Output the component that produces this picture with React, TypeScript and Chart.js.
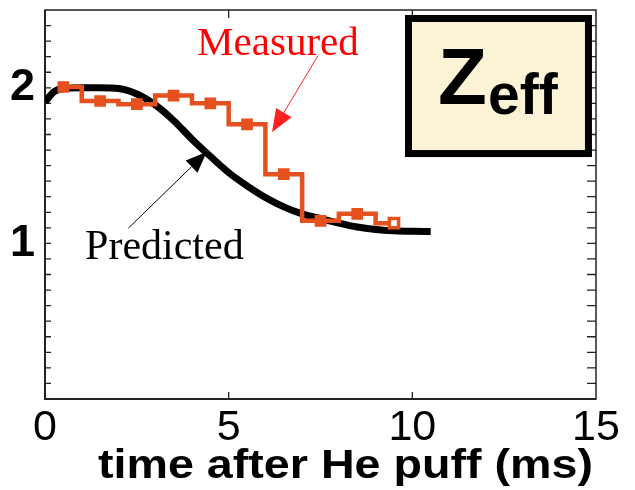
import React, { useEffect, useRef } from "react";
import { Chart, registerables } from "chart.js";

Chart.register(...registerables);

// ---- data ----
const measuredTimes = [0.5, 1.5, 2.5, 3.5, 4.5, 5.5, 6.5, 7.5, 8.5, 9.5];
const measuredZeff = [2.005, 1.915, 1.895, 1.95, 1.9, 1.765, 1.445, 1.145, 1.19, 1.13];

const predictedTimes = [0, 0.25, 0.5, 1, 1.5, 2, 2.5, 3, 3.5, 4, 4.5, 5, 5.5, 6, 6.5, 7, 7.5, 8, 8.5, 9, 9.5, 10, 10.5];
const predictedZeff = [1.91, 1.975, 1.995, 2.0, 2.0, 1.995, 1.96, 1.89, 1.79, 1.67, 1.56, 1.455, 1.37, 1.295, 1.235, 1.19, 1.16, 1.13, 1.105, 1.09, 1.082, 1.078, 1.076];

const xTickLabels = [0, 5, 10, 15];
const yTickLabels = [1, 2];
const xTitle = "time after He puff (ms)";
const measuredLabel = "Measured";
const predictedLabel = "Predicted";

const SANS = "'Liberation Sans', Arial, sans-serif";
const SERIF = "'Liberation Serif', 'Times New Roman', serif";
const RED = "#E5501F";

function arrow(ctx: CanvasRenderingContext2D, x1: number, y1: number, x2: number, y2: number, color: string, headLen: number, headHalf: number) {
  const ang = Math.atan2(y2 - y1, x2 - x1);
  const bx = x2 - headLen * Math.cos(ang);
  const by = y2 - headLen * Math.sin(ang);
  ctx.save();
  ctx.strokeStyle = color;
  ctx.fillStyle = color;
  ctx.lineWidth = 1;
  ctx.beginPath();
  ctx.moveTo(x1, y1);
  ctx.lineTo(bx, by);
  ctx.stroke();
  ctx.beginPath();
  ctx.moveTo(x2, y2);
  ctx.lineTo(bx + headHalf * Math.sin(ang), by - headHalf * Math.cos(ang));
  ctx.lineTo(bx - headHalf * Math.sin(ang), by + headHalf * Math.cos(ang));
  ctx.closePath();
  ctx.fill();
  ctx.restore();
}

const framePlugin = {
  id: "frame",
  beforeDatasetsDraw(chart: any) {
    const { ctx, chartArea: a, scales } = chart;
    const xs = scales.x, ys = scales.y;
    ctx.save();
    ctx.strokeStyle = "#222";
    ctx.lineWidth = 1.5;
    ctx.strokeRect(a.left, a.top, a.right - a.left, a.bottom - a.top);
    ctx.lineWidth = 2;
    ctx.beginPath();
    ctx.moveTo(a.left, a.top);
    ctx.lineTo(a.left, a.bottom);
    ctx.lineTo(a.right, a.bottom);
    ctx.stroke();
    ctx.lineWidth = 1.3;
    ctx.beginPath();
    for (let i = 1; i < 25; i++) {
      const y = ys.getPixelForValue(i / 10);
      ctx.moveTo(a.left, y);
      ctx.lineTo(a.left + 6, y);
      ctx.moveTo(a.right, y);
      ctx.lineTo(a.right - 9, y);
    }
    for (const v of xTickLabels) {
      if (v === 0 || v === 15) continue;
      const x = xs.getPixelForValue(v);
      ctx.moveTo(x, a.bottom);
      ctx.lineTo(x, a.bottom - 7);
      ctx.moveTo(x, a.top);
      ctx.lineTo(x, a.top + 8);
    }
    ctx.stroke();
    ctx.restore();
  },
  afterDatasetsDraw(chart: any) {
    const { ctx, chartArea: a, scales } = chart;
    const X = (v: number) => scales.x.getPixelForValue(v);
    const Y = (v: number) => scales.y.getPixelForValue(v);
    ctx.save();
    // annotations
    ctx.textAlign = "left";
    ctx.textBaseline = "alphabetic";
    ctx.fillStyle = "#FF0000";
    ctx.font = `41px ${SERIF}`;
    ctx.fillText(measuredLabel, X(4.14), Y(2.214));
    ctx.fillStyle = "#000";
    ctx.font = `42px ${SERIF}`;
    ctx.fillText(predictedLabel, X(1.09), Y(0.898));
    arrow(ctx, X(7.43), Y(2.206), X(6.18), Y(1.714), "#FF2020", 23, 9);
    arrow(ctx, X(2.27), Y(1.098), X(4.40), Y(1.587), "#000", 21, 8.5);

    // Zeff box
    const bl = X(9.8), br = X(14.89), bt = Y(2.468), bb = Y(1.555);
    ctx.fillStyle = "#FCF2D5";
    ctx.fillRect(bl, bt, br - bl, bb - bt);
    ctx.strokeStyle = "#000";
    ctx.lineWidth = 7;
    ctx.strokeRect(bl + 3.5, bt + 3.5, br - bl - 7, bb - bt - 7);
    ctx.fillStyle = "#000";
    ctx.font = `bold 80px ${SANS}`;
    ctx.fillText("Z", X(10.7), Y(1.893));
    ctx.font = `bold 57px ${SANS}`;
    ctx.fillText("eff", X(12.06), Y(1.83));

    // x title (stretched horizontally)
    ctx.font = `bold 40px ${SANS}`;
    const w = ctx.measureText(xTitle).width;
    const targetW = 495;
    ctx.translate(a.right - 3, chart.height - 12);
    ctx.scale(targetW / w, 1);
    ctx.textAlign = "right";
    ctx.fillText(xTitle, 0, 0);
    ctx.restore();
  },
};

export default function App() {
  const ref = useRef<HTMLCanvasElement | null>(null);
  useEffect(() => {
    if (!ref.current) return;
    const chart = new Chart(ref.current, {
      type: "line",
      data: {
        datasets: [
          {
            label: measuredLabel,
            data: measuredTimes.map((t, i) => ({ x: t, y: measuredZeff[i] })),
            borderColor: RED,
            borderWidth: 4.5,
            stepped: "middle",
            pointStyle: "rect",
            pointRadius: 6.5,
            pointBorderWidth: measuredTimes.map((_, i) => (i === measuredTimes.length - 1 ? 3.5 : 2.5)),
            pointBackgroundColor: measuredTimes.map((_, i) => (i === measuredTimes.length - 1 ? "#fff" : RED)),
            pointBorderColor: RED,
            fill: false,
          },
          {
            label: predictedLabel,
            data: predictedTimes.map((t, i) => ({ x: t, y: predictedZeff[i] })),
            borderColor: "#000",
            borderWidth: 7,
            pointRadius: 0,
            cubicInterpolationMode: "monotone",
            fill: false,
          },
        ],
      } as any,
      options: {
        responsive: false,
        animation: false,
        layout: { padding: { top: 6, right: 39, left: 0, bottom: 0 } },
        plugins: { legend: { display: false }, tooltip: { enabled: false }, title: { display: false } },
        scales: {
          x: {
            type: "linear",
            min: 0,
            max: 15,
            grid: { display: false, drawTicks: false },
            border: { display: false },
            ticks: {
              stepSize: 5,
              padding: 3,
              color: "#000",
              font: { family: SANS, size: 43 },
              maxRotation: 0,
              callback: (v: any) => (xTickLabels.includes(Number(v)) ? String(v) : ""),
            },
            afterFit: (s: any) => {
              s.height = 91;
              s.paddingLeft = 0;
              s.paddingRight = 0;
            },
          },
          y: {
            type: "linear",
            min: 0,
            max: 2.5,
            grid: { display: false, drawTicks: false },
            border: { display: false },
            ticks: {
              stepSize: 1,
              padding: 10,
              color: "#000",
              font: { family: SANS, size: 45, weight: "bold" },
              callback: (v: any) => (yTickLabels.includes(Number(v)) ? String(v) : ""),
            },
            afterFit: (s: any) => {
              s.width = 45;
              s.paddingTop = 0;
              s.paddingBottom = 0;
            },
          },
        },
      } as any,
      plugins: [framePlugin],
    });
    return () => chart.destroy();
  }, []);
  return (
    <div style={{ position: "absolute", left: 0, top: 0, width: 635, height: 490, background: "#fff" }}>
      <canvas ref={ref} width={635} height={490} style={{ display: "block" }} />
    </div>
  );
}
